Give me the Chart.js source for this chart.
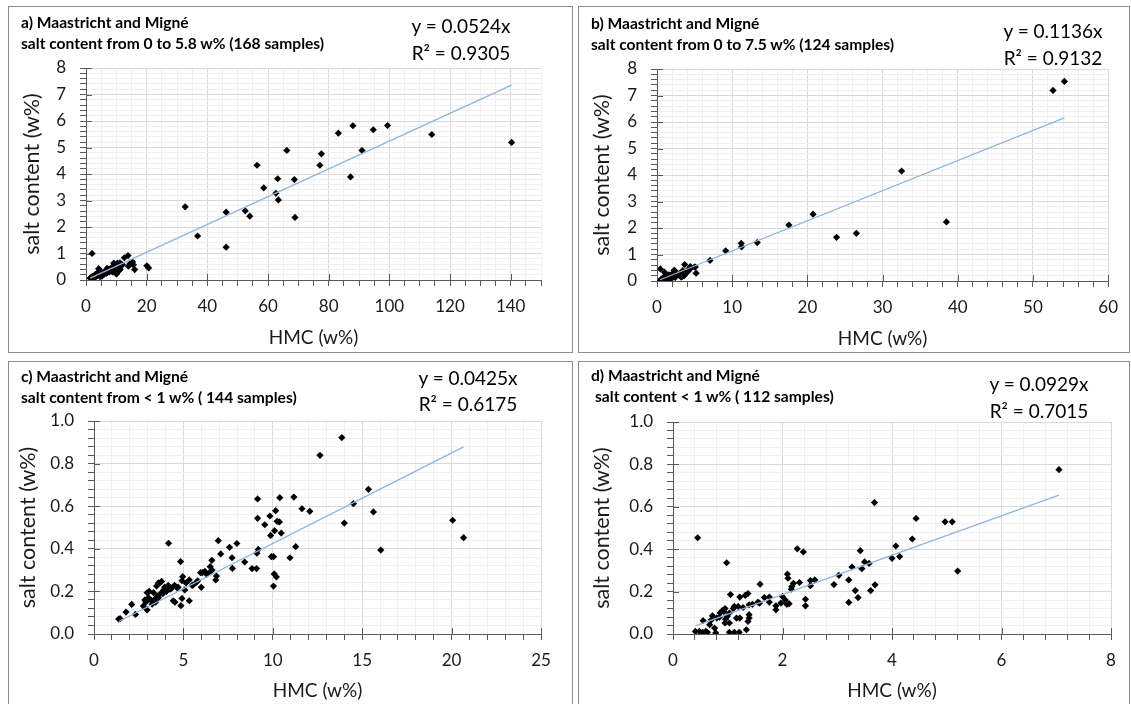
<!DOCTYPE html>
<html>
<head>
<meta charset="utf-8">
<script src="https://cdn.jsdelivr.net/npm/chart.js@4.4.1/dist/chart.umd.min.js"></script>
<style>
  html, body { margin: 0; padding: 0; background: #fff; }
  body { width: 1131px; height: 704px; position: relative; overflow: hidden; font-family: Lato, "Noto Sans", sans-serif; color: #000; }
  .panel { position: absolute; border: 1.5px solid #8c8c8c; box-sizing: border-box; }
  canvas { position: absolute; }
  .ttl { position: absolute; font-weight: bold; font-size: 15.6px; line-height: 1; white-space: nowrap; transform: translateY(-50%); }
  .eq { position: absolute; font-size: 19px; line-height: 1; white-space: nowrap; transform: translate(-50%, -50%); }
</style>
</head>
<body>
<div class="panel" style="left:8px;top:6px;width:565px;height:347px"></div>
<div class="panel" style="left:578px;top:6px;width:552px;height:347px"></div>
<div class="panel" style="left:8px;top:361px;width:565px;height:345px"></div>
<div class="panel" style="left:578px;top:361px;width:552px;height:345px"></div>

<canvas id="chartA"></canvas>
<canvas id="chartB"></canvas>
<canvas id="chartC"></canvas>
<canvas id="chartD"></canvas>

<div class="ttl" style="left:21px;top:23px">a) Maastricht and Migné</div>
<div class="ttl" style="left:21px;top:44px">salt content from 0 to 5.8 w% (168 samples)</div>
<div class="eq" style="left:461px;top:25px">y = 0.0524x</div>
<div class="eq" style="left:461px;top:52px">R² = 0.9305</div>

<div class="ttl" style="left:591px;top:24px">b) Maastricht and Migné</div>
<div class="ttl" style="left:591px;top:45px">salt content from 0 to 7.5 w% (124 samples)</div>
<div class="eq" style="left:1053px;top:30px">y = 0.1136x</div>
<div class="eq" style="left:1053px;top:57px">R² = 0.9132</div>

<div class="ttl" style="left:21px;top:377px">c) Maastricht and Migné</div>
<div class="ttl" style="left:21px;top:398px">salt content from &lt; 1 w% ( 144 samples)</div>
<div class="eq" style="left:468px;top:377px">y = 0.0425x</div>
<div class="eq" style="left:468px;top:403px">R² = 0.6175</div>

<div class="ttl" style="left:591px;top:376px">d) Maastricht and Migné</div>
<div class="ttl" style="left:595px;top:397px">salt content &lt; 1 w% ( 112 samples)</div>
<div class="eq" style="left:1039px;top:383px">y = 0.0929x</div>
<div class="eq" style="left:1039px;top:410px">R² = 0.7015</div>

<script>
// ---- data ----
// c) samples with salt < 1 w% (HMC w%, salt w%)
const cHmc = [13.86, 12.64, 20.06, 20.67, 15.35, 14.51, 14.0, 15.63, 16.04, 11.18, 11.63, 12.07, 11.28, 10.96, 10.39,
  9.15, 9.15, 9.55, 9.84, 10.16, 10.24, 10.37, 10.10, 9.88, 10.47, 9.19, 9.11, 9.92, 10.04, 10.08, 10.20, 10.04,
  8.84, 9.09, 8.43, 7.99, 7.58, 6.95, 7.09, 7.72, 7.74, 6.59, 6.50, 6.85, 6.81, 6.48, 6.20, 6.06, 5.96, 6.00, 5.73,
  5.49, 5.33, 5.33, 5.08, 4.96, 4.92, 4.84, 4.92, 4.86, 4.51, 4.65, 4.43, 4.53, 4.17, 4.15, 4.31, 3.90, 3.78, 3.66,
  3.50, 3.74, 3.54, 3.39, 3.21, 3.33, 3.09, 2.97, 2.85, 2.76, 2.97, 2.32, 2.11, 1.79, 1.38, 1.46,
  3.05, 3.25, 3.45, 3.60, 3.85, 4.05, 4.25, 4.40, 4.70, 5.15, 5.55, 5.80, 6.30, 6.60, 3.95, 3.60, 2.90];
const cSalt = [0.922, 0.839, 0.534, 0.452, 0.679, 0.612, 0.521, 0.573, 0.394, 0.643, 0.588, 0.576, 0.410, 0.358, 0.640,
  0.634, 0.543, 0.513, 0.554, 0.579, 0.529, 0.526, 0.485, 0.463, 0.474, 0.397, 0.379, 0.363, 0.363, 0.282, 0.268, 0.225,
  0.307, 0.307, 0.338, 0.425, 0.407, 0.438, 0.376, 0.358, 0.308, 0.346, 0.316, 0.272, 0.254, 0.291, 0.294, 0.288, 0.288, 0.219, 0.243,
  0.228, 0.254, 0.156, 0.207, 0.269, 0.250, 0.340, 0.167, 0.133, 0.228, 0.216, 0.156, 0.149, 0.426, 0.228, 0.213, 0.207, 0.247, 0.238,
  0.225, 0.191, 0.178, 0.163, 0.156, 0.194, 0.200, 0.194, 0.160, 0.131, 0.113, 0.092, 0.139, 0.103, 0.070, 0.072,
  0.17, 0.14, 0.15, 0.17, 0.19, 0.20, 0.21, 0.22, 0.22, 0.24, 0.23, 0.25, 0.28, 0.30, 0.22, 0.24, 0.15];

// a) the c) samples plus the ones with higher salt content
const aExtraHmc = [2.0, 32.7, 36.8, 46.2, 46.2, 52.5, 54.0, 56.4, 58.6, 62.6, 63.2, 63.4, 66.2, 68.7, 68.9,
  77.1, 77.6, 83.2, 87.2, 88.0, 91.0, 94.7, 99.4, 114.0, 140.3];
const aExtraSalt = [1.0, 2.76, 1.66, 2.56, 1.24, 2.61, 2.41, 4.33, 3.48, 3.27, 3.82, 3.02, 4.89, 3.79, 2.36,
  4.33, 4.76, 5.54, 3.89, 5.82, 4.89, 5.67, 5.83, 5.49, 5.19];

// d) samples with salt < 1 w%
const dHmc = [7.05, 3.68, 0.45, 0.98, 2.27, 2.38, 4.44, 4.97, 5.10, 4.37, 4.07, 5.20, 4.14, 4.00, 3.42, 3.50, 3.58,
  3.45, 3.27, 3.69, 3.61, 3.21, 3.33, 3.38, 3.21, 3.03, 2.94, 2.59, 2.51, 2.51, 2.31, 2.09, 2.10, 2.17, 2.16, 2.20,
  2.42, 2.42, 2.00, 2.05, 2.08, 2.12, 1.97, 1.88, 1.88, 1.76, 1.67, 1.76, 1.59, 1.58, 1.39, 1.37, 1.32, 1.22, 1.12,
  1.19, 1.28, 1.39, 1.39, 1.37, 1.34, 1.22, 1.16, 1.05, 1.03, 0.99, 0.95, 0.93, 0.86, 0.80, 0.72, 0.70, 0.67, 0.76,
  0.55, 0.60, 0.48, 0.41, 0.54, 0.63, 0.78, 1.03, 1.12, 1.21, 0.95, 1.03, 0.96, 1.10, 0.90, 1.45, 1.55, 0.85];
const dSalt = [0.775, 0.620, 0.454, 0.336, 0.402, 0.387, 0.545, 0.529, 0.529, 0.448, 0.415, 0.297, 0.365, 0.357, 0.393, 0.340, 0.333,
  0.308, 0.316, 0.232, 0.205, 0.255, 0.205, 0.172, 0.149, 0.277, 0.233, 0.255, 0.252, 0.228, 0.243, 0.282, 0.263, 0.224, 0.211, 0.239,
  0.164, 0.133, 0.177, 0.160, 0.140, 0.143, 0.146, 0.133, 0.114, 0.174, 0.172, 0.150, 0.235, 0.146, 0.138, 0.191, 0.182, 0.174, 0.130,
  0.130, 0.125, 0.091, 0.075, 0.059, 0.020, 0.075, 0.075, 0.186, 0.099, 0.083, 0.120, 0.106, 0.099, 0.075, 0.086, 0.067, 0.044, 0.028,
  0.063, 0.012, 0.012, 0.012, 0.008, 0.008, 0.005, 0.008, 0.008, 0.008, 0.052, 0.052, 0.070, 0.120, 0.110, 0.140, 0.150, 0.080];

// b) the d) samples plus the ones with higher salt content
const bExtraHmc = [9.13, 11.2, 11.25, 13.33, 17.54, 20.76, 23.88, 26.52, 32.53, 38.49, 52.67, 54.18];
const bExtraSalt = [1.14, 1.42, 1.29, 1.45, 2.11, 2.52, 1.65, 1.80, 4.15, 2.23, 7.19, 7.53];

// trendline slopes (y = kx)
const slopeA = 0.0524, slopeB = 0.1136, slopeC = 0.0425, slopeD = 0.0929;

// ---- helpers ----
const isMul = (v, step) => Math.abs(v / step - Math.round(v / step)) < 1e-6;
const pts = (xs, ys) => xs.map((x, i) => ({ x, y: ys[i] }));
function trend(xs, k) {
  const lo = Math.min(...xs), hi = Math.max(...xs);
  return [{ x: lo, y: k * lo }, { x: hi, y: k * hi }];
}

const AXIS = '#595959';
const TXT = '#1a1a1a';

// major ticks cross the axis line, minor ones stay outside
const crossTicks = {
  id: 'crossTicks',
  beforeDatasetsDraw(chart, args, o) {
    const { ctx, scales: { x, y } } = chart;
    ctx.save();
    ctx.strokeStyle = AXIS;
    ctx.lineWidth = 1;
    ctx.beginPath();
    x.ticks.forEach(t => {
      if (!isMul(t.value, o.xMajor)) return;
      const px = Math.round(x.getPixelForValue(t.value)) + 0.5;
      ctx.moveTo(px, y.bottom); ctx.lineTo(px, y.bottom - 6);
    });
    y.ticks.forEach(t => {
      if (!isMul(t.value, o.yMajor)) return;
      const py = Math.round(y.getPixelForValue(t.value)) + 0.5;
      ctx.moveTo(x.left, py); ctx.lineTo(x.left + 6, py);
    });
    ctx.stroke();
    ctx.restore();
  }
};

function makeChart(p) {
  const el = document.getElementById(p.id);
  el.width = p.box.w; el.height = p.box.h;
  el.style.left = p.box.l + 'px'; el.style.top = p.box.t + 'px';
  el.style.width = p.box.w + 'px'; el.style.height = p.box.h + 'px';

  const padTop = p.plot.t - p.box.t;
  const padRight = p.box.l + p.box.w - p.plot.r;
  const yW = p.plot.l - p.box.l;
  const xH = p.box.t + p.box.h - p.plot.b;

  const gridColor = step => c => isMul(c.tick.value, step) ? '#d9d9d9' : '#f0f0f0';

  new Chart(el, {
    type: 'scatter',
    data: {
      datasets: [
        { data: trend(p.xs, p.k), showLine: true, borderColor: '#8db4e2', borderWidth: 1.3, pointRadius: 0, order: 0 },
        { data: pts(p.xs, p.ys), pointStyle: 'rectRot', pointRadius: 3.6, backgroundColor: '#000', borderWidth: 0, order: 1 }
      ]
    },
    options: {
      responsive: false,
      animation: false,
      layout: { padding: { top: padTop, right: padRight, left: 0, bottom: 0 } },
      plugins: { legend: { display: false }, tooltip: { enabled: false }, crossTicks: { xMajor: p.xMajor, yMajor: p.yMajor } },
      scales: {
        x: {
          type: 'linear', min: 0, max: p.xMax,
          afterFit: s => { s.height = xH; },
          ticks: {
            stepSize: p.xMinor, autoSkip: false, maxRotation: 0, padding: 10, color: TXT,
            font: { family: 'Lato', size: 17 },
            callback: v => isMul(v, p.xMajor) ? String(Math.round(v * 10) / 10) : ''
          },
          grid: { color: gridColor(p.xMajor), tickLength: 6, tickColor: AXIS },
          border: { color: AXIS },
          title: { display: true, text: 'HMC (w%)', color: TXT, font: { family: 'Lato', size: 19, lineHeight: 1 }, padding: { top: 0, bottom: p.xTitlePad } }
        },
        y: {
          type: 'linear', min: 0, max: p.yMax,
          afterFit: s => { s.width = yW; },
          ticks: {
            stepSize: p.yMinor, autoSkip: false, padding: 14, color: TXT,
            font: { family: 'Lato', size: 17 },
            callback: v => isMul(v, p.yMajor) ? v.toFixed(p.yDec) : ''
          },
          grid: { color: gridColor(p.yMajor), tickLength: 6, tickColor: AXIS },
          border: { color: AXIS },
          title: { display: true, text: 'salt content (w%)', color: TXT, font: { family: 'Lato', size: 21.5, lineHeight: 1 }, padding: { top: p.yTitlePad, bottom: 0 } }
        }
      }
    },
    plugins: [crossTicks]
  });
}

const aHmc = cHmc.concat(aExtraHmc), aSalt = cSalt.concat(aExtraSalt);
const bHmc = dHmc.concat(bExtraHmc), bSalt = dSalt.concat(bExtraSalt);

makeChart({ id: 'chartA', box: { l: 10, t: 8, w: 560, h: 343 }, plot: { l: 86, r: 541, t: 68, b: 280 },
  xs: aHmc, ys: aSalt, k: slopeA, xMax: 150, xMajor: 20, xMinor: 5, yMax: 8, yMajor: 1, yMinor: 0.2, yDec: 0,
  xTitlePad: 4, yTitlePad: 11 });
makeChart({ id: 'chartB', box: { l: 580, t: 8, w: 548, h: 343 }, plot: { l: 657, r: 1111, t: 69, b: 281 },
  xs: bHmc, ys: bSalt, k: slopeB, xMax: 60, xMajor: 10, xMinor: 2, yMax: 8, yMajor: 1, yMinor: 0.2, yDec: 0,
  xTitlePad: 3, yTitlePad: 11 });
makeChart({ id: 'chartC', box: { l: 10, t: 363, w: 560, h: 341 }, plot: { l: 94, r: 541, t: 421, b: 634 },
  xs: cHmc, ys: cSalt, k: slopeC, xMax: 25, xMajor: 5, xMinor: 1, yMax: 1, yMajor: 0.2, yMinor: 0.04, yDec: 1,
  xTitlePad: 4, yTitlePad: 7 });
makeChart({ id: 'chartD', box: { l: 580, t: 363, w: 548, h: 341 }, plot: { l: 673, r: 1111, t: 422, b: 634 },
  xs: dHmc, ys: dSalt, k: slopeD, xMax: 8, xMajor: 2, xMinor: 0.4, yMax: 1, yMajor: 0.2, yMinor: 0.04, yDec: 1,
  xTitlePad: 4, yTitlePad: 11 });
</script>
</body>
</html>
